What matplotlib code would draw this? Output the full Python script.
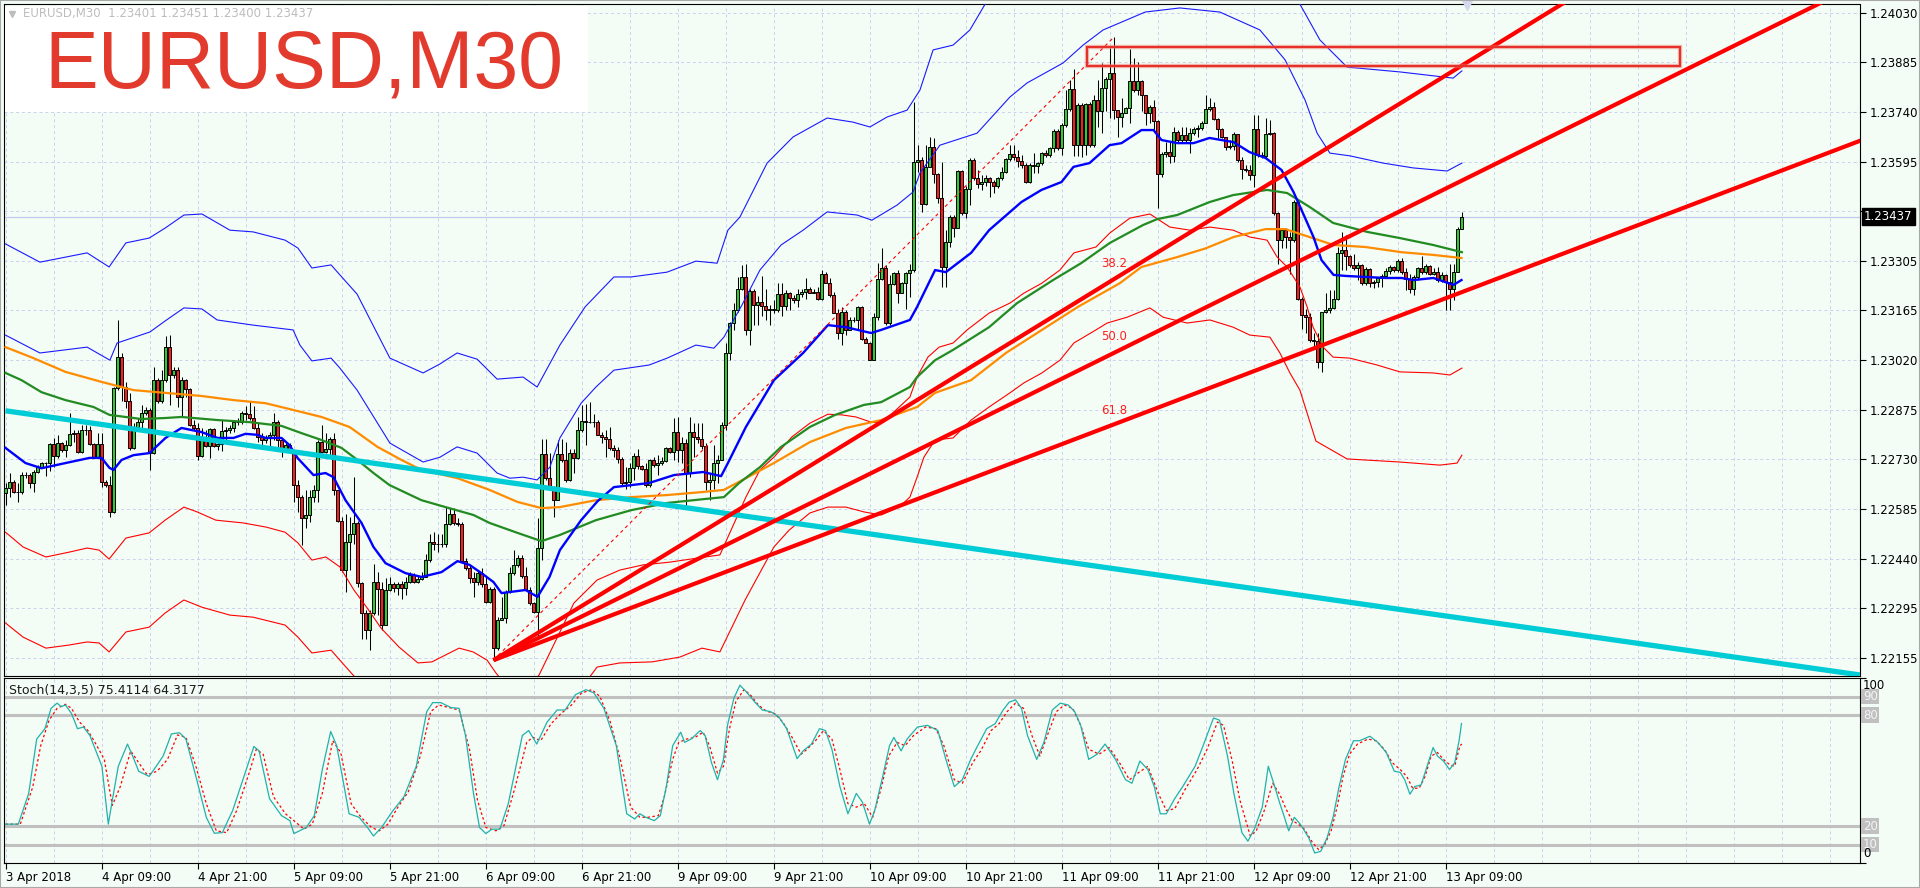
"""
EURUSD M30 chart in MetaTrader style: candles, moving averages, bands,
trend lines and a stochastic sub-window.
"""

import numpy as np
import matplotlib.pyplot as plt
from matplotlib.patches import Rectangle


# ---------------------------------------------------------------- data
symbol_title = 'EURUSD,M30'
header_text = 'EURUSD,M30  1.23401 1.23451 1.23400 1.23437'
stoch_header = 'Stoch(14,3,5) 75.4114 64.3177'

time_labels = ['3 Apr 2018', '4 Apr 09:00', '4 Apr 21:00', '5 Apr 09:00',
               '5 Apr 21:00', '6 Apr 09:00', '6 Apr 21:00', '9 Apr 09:00',
               '9 Apr 21:00', '10 Apr 09:00', '10 Apr 21:00', '11 Apr 09:00',
               '11 Apr 21:00', '12 Apr 09:00', '12 Apr 21:00', '13 Apr 09:00']
bars_per_label = 24

# the 5th label sits under the bid price box, so it is left blank
price_labels = ['1.24030', '1.23885', '1.23740', '1.23595', '',
                '1.23305', '1.23165', '1.23020', '1.22875', '1.22730',
                '1.22585', '1.22440', '1.22295', '1.22155']

# candles (one per 30 min bar); open = previous close
first_open = 1.22633
closes = [
    1.22648, 1.22667, 1.22638, 1.22638, 1.22686, 1.22686, 1.22662, 1.22696, 1.22709, 1.22720,
    1.22722, 1.22776, 1.22742, 1.22780, 1.22759, 1.22774, 1.22805, 1.22808, 1.22754, 1.22817,
    1.22817, 1.22777, 1.22740, 1.22776, 1.22667, 1.22657, 1.22580, 1.22938, 1.23028, 1.22943,
    1.22900, 1.22764, 1.22825, 1.22841, 1.22866, 1.22875, 1.22749, 1.22963, 1.22900, 1.22963,
    1.23058, 1.22977, 1.22992, 1.22914, 1.22963, 1.22935, 1.22832, 1.22822, 1.22742, 1.22796,
    1.22771, 1.22819, 1.22771, 1.22777, 1.22814, 1.22817, 1.22822, 1.22841, 1.22839, 1.22866,
    1.22864, 1.22851, 1.22822, 1.22796, 1.22788, 1.22793, 1.22803, 1.22839, 1.22788, 1.22761,
    1.22774, 1.22759, 1.22657, 1.22623, 1.22560, 1.22570, 1.22621, 1.22644, 1.22783, 1.22754,
    1.22763, 1.22792, 1.22642, 1.22553, 1.22410, 1.22492, 1.22514, 1.22547, 1.22373, 1.22286,
    1.22235, 1.22284, 1.22376, 1.22354, 1.22250, 1.22352, 1.22368, 1.22359, 1.22369, 1.22359,
    1.22376, 1.22395, 1.22376, 1.22384, 1.22390, 1.22439, 1.22492, 1.22485, 1.22487, 1.22485,
    1.22545, 1.22572, 1.22547, 1.22545, 1.22437, 1.22415, 1.22387, 1.22376, 1.22402, 1.22369,
    1.22316, 1.22355, 1.22182, 1.22264, 1.22272, 1.22345, 1.22400, 1.22424, 1.22444, 1.22392,
    1.22352, 1.22313, 1.22289, 1.22473, 1.22746, 1.22678, 1.22650, 1.22615, 1.22746, 1.22731,
    1.22671, 1.22749, 1.22737, 1.22817, 1.22843, 1.22841, 1.22841, 1.22839, 1.22802, 1.22797,
    1.22792, 1.22766, 1.22758, 1.22734, 1.22662, 1.22666, 1.22707, 1.22741, 1.22712, 1.22705,
    1.22657, 1.22729, 1.22715, 1.22720, 1.22727, 1.22766, 1.22754, 1.22810, 1.22758, 1.22778,
    1.22691, 1.22812, 1.22797, 1.22792, 1.22770, 1.22666, 1.22673, 1.22722, 1.22731, 1.22833,
    1.23041, 1.23127, 1.23167, 1.23227, 1.23262, 1.23107, 1.23221, 1.23180, 1.23190, 1.23177,
    1.23165, 1.23170, 1.23165, 1.23212, 1.23177, 1.23216, 1.23202, 1.23196, 1.23212, 1.23219,
    1.23226, 1.23216, 1.23219, 1.23199, 1.23270, 1.23245, 1.23209, 1.23158, 1.23098, 1.23161,
    1.23109, 1.23136, 1.23138, 1.23175, 1.23083, 1.23070, 1.23022, 1.23146, 1.23255, 1.23289,
    1.23127, 1.23241, 1.23274, 1.23216, 1.23245, 1.23274, 1.23282, 1.23597, 1.23602, 1.23474,
    1.23583, 1.23639, 1.23561, 1.23491, 1.23292, 1.23365, 1.23437, 1.23403, 1.23570, 1.23447,
    1.23517, 1.23602, 1.23549, 1.23532, 1.23539, 1.23549, 1.23539, 1.23525, 1.23549, 1.23568,
    1.23604, 1.23620, 1.23612, 1.23600, 1.23588, 1.23539, 1.23588, 1.23585, 1.23592, 1.23621,
    1.23617, 1.23636, 1.23687, 1.23636, 1.23704, 1.23749, 1.23808, 1.23646, 1.23762, 1.23646,
    1.23765, 1.23646, 1.23777, 1.23743, 1.23810, 1.23837, 1.23854, 1.23747, 1.23726, 1.23740,
    1.23752, 1.23833, 1.23806, 1.23833, 1.23791, 1.23740, 1.23755, 1.23714, 1.23561, 1.23620,
    1.23626, 1.23614, 1.23684, 1.23660, 1.23675, 1.23660, 1.23680, 1.23691, 1.23694, 1.23709,
    1.23749, 1.23755, 1.23720, 1.23691, 1.23669, 1.23640, 1.23642, 1.23679, 1.23602, 1.23577,
    1.23573, 1.23558, 1.23691, 1.23616, 1.23613, 1.23679, 1.23681, 1.23447, 1.23369, 1.23398,
    1.23377, 1.23369, 1.23480, 1.23199, 1.23151, 1.23146, 1.23078, 1.23076, 1.23015, 1.23161,
    1.23166, 1.23173, 1.23197, 1.23332, 1.23340, 1.23323, 1.23296, 1.23287, 1.23296, 1.23243,
    1.23284, 1.23243, 1.23246, 1.23258, 1.23264, 1.23280, 1.23290, 1.23282, 1.23309, 1.23277,
    1.23255, 1.23226, 1.23261, 1.23287, 1.23277, 1.23293, 1.23272, 1.23277, 1.23253, 1.23267,
    1.23248, 1.23226, 1.23277, 1.23401, 1.23437]
highs = [
    1.22662, 1.22691, 1.22672, 1.22662, 1.22696, 1.22696, 1.22691, 1.22701, 1.22716, 1.22725,
    1.22725, 1.22778, 1.22793, 1.22803, 1.22783, 1.22788, 1.22866, 1.22817, 1.22817, 1.22832,
    1.22832, 1.22829, 1.22778, 1.22808, 1.22808, 1.22672, 1.22682, 1.22943, 1.23137, 1.23040,
    1.22958, 1.22924, 1.22837, 1.22851, 1.22890, 1.22883, 1.22880, 1.23001, 1.22967, 1.22992,
    1.23089, 1.23093, 1.23001, 1.23001, 1.22972, 1.22965, 1.22938, 1.22846, 1.22837, 1.22822,
    1.22817, 1.22822, 1.22822, 1.22793, 1.22846, 1.22827, 1.22832, 1.22846, 1.22851, 1.22871,
    1.22887, 1.22900, 1.22887, 1.22837, 1.22808, 1.22803, 1.22812, 1.22866, 1.22846, 1.22788,
    1.22778, 1.22778, 1.22749, 1.22672, 1.22628, 1.22642, 1.22642, 1.22657, 1.22788, 1.22831,
    1.22807, 1.22797, 1.22807, 1.22642, 1.22565, 1.22574, 1.22565, 1.22681, 1.22553, 1.22376,
    1.22293, 1.22293, 1.22429, 1.22405, 1.22376, 1.22386, 1.22390, 1.22376, 1.22376, 1.22379,
    1.22390, 1.22405, 1.22400, 1.22395, 1.22405, 1.22458, 1.22516, 1.22521, 1.22516, 1.22516,
    1.22594, 1.22589, 1.22589, 1.22560, 1.22550, 1.22444, 1.22424, 1.22405, 1.22410, 1.22415,
    1.22390, 1.22361, 1.22361, 1.22274, 1.22332, 1.22352, 1.22419, 1.22468, 1.22453, 1.22453,
    1.22419, 1.22361, 1.22318, 1.22560, 1.22792, 1.22792, 1.22749, 1.22654, 1.22788, 1.22792,
    1.22783, 1.22763, 1.22763, 1.22855, 1.22889, 1.22894, 1.22899, 1.22865, 1.22846, 1.22812,
    1.22817, 1.22826, 1.22773, 1.22768, 1.22739, 1.22710, 1.22720, 1.22749, 1.22763, 1.22715,
    1.22720, 1.22734, 1.22739, 1.22744, 1.22739, 1.22768, 1.22768, 1.22851, 1.22855, 1.22797,
    1.22792, 1.22855, 1.22836, 1.22836, 1.22836, 1.22778, 1.22691, 1.22773, 1.22744, 1.22841,
    1.23069, 1.23132, 1.23185, 1.23262, 1.23296, 1.23301, 1.23226, 1.23228, 1.23206, 1.23264,
    1.23228, 1.23180, 1.23195, 1.23245, 1.23245, 1.23224, 1.23219, 1.23209, 1.23228, 1.23228,
    1.23258, 1.23233, 1.23228, 1.23233, 1.23282, 1.23277, 1.23258, 1.23219, 1.23170, 1.23175,
    1.23165, 1.23146, 1.23146, 1.23177, 1.23177, 1.23088, 1.23073, 1.23156, 1.23303, 1.23345,
    1.23296, 1.23267, 1.23277, 1.23282, 1.23248, 1.23277, 1.23301, 1.23771, 1.23645, 1.23612,
    1.23646, 1.23670, 1.23665, 1.23563, 1.23597, 1.23399, 1.23442, 1.23442, 1.23573, 1.23573,
    1.23525, 1.23607, 1.23607, 1.23573, 1.23558, 1.23558, 1.23554, 1.23544, 1.23554, 1.23583,
    1.23607, 1.23646, 1.23646, 1.23631, 1.23617, 1.23592, 1.23592, 1.23621, 1.23597, 1.23626,
    1.23631, 1.23641, 1.23691, 1.23691, 1.23709, 1.23806, 1.23835, 1.23866, 1.23767, 1.23767,
    1.23769, 1.23772, 1.23791, 1.23835, 1.23883, 1.23844, 1.23927, 1.23959, 1.23747, 1.23781,
    1.23757, 1.23925, 1.23898, 1.23888, 1.23835, 1.23791, 1.23762, 1.23777, 1.23718, 1.23626,
    1.23655, 1.23655, 1.23699, 1.23689, 1.23699, 1.23699, 1.23694, 1.23699, 1.23704, 1.23714,
    1.23791, 1.23781, 1.23771, 1.23723, 1.23694, 1.23669, 1.23660, 1.23684, 1.23679, 1.23611,
    1.23587, 1.23587, 1.23732, 1.23732, 1.23626, 1.23723, 1.23718, 1.23684, 1.23451, 1.23403,
    1.23403, 1.23393, 1.23485, 1.23485, 1.23204, 1.23170, 1.23156, 1.23098, 1.23098, 1.23161,
    1.23214, 1.23224, 1.23224, 1.23350, 1.23393, 1.23384, 1.23325, 1.23330, 1.23306, 1.23301,
    1.23291, 1.23287, 1.23253, 1.23262, 1.23272, 1.23287, 1.23296, 1.23293, 1.23313, 1.23316,
    1.23287, 1.23272, 1.23267, 1.23291, 1.23323, 1.23301, 1.23296, 1.23287, 1.23291, 1.23277,
    1.23272, 1.23301, 1.23301, 1.23408, 1.23451]
lows = [
    1.22599, 1.22623, 1.22633, 1.22609, 1.22631, 1.22677, 1.22648, 1.22638, 1.22693, 1.22706,
    1.22682, 1.22699, 1.22711, 1.22735, 1.22754, 1.22740, 1.22771, 1.22783, 1.22749, 1.22751,
    1.22803, 1.22774, 1.22735, 1.22738, 1.22652, 1.22652, 1.22565, 1.22575, 1.22934, 1.22900,
    1.22880, 1.22759, 1.22761, 1.22817, 1.22817, 1.22861, 1.22701, 1.22747, 1.22895, 1.22895,
    1.22958, 1.22890, 1.22967, 1.22883, 1.22856, 1.22912, 1.22829, 1.22817, 1.22730, 1.22740,
    1.22767, 1.22735, 1.22767, 1.22759, 1.22757, 1.22788, 1.22808, 1.22812, 1.22832, 1.22835,
    1.22846, 1.22846, 1.22819, 1.22783, 1.22774, 1.22778, 1.22764, 1.22788, 1.22759, 1.22740,
    1.22754, 1.22749, 1.22609, 1.22580, 1.22482, 1.22531, 1.22550, 1.22608, 1.22608, 1.22749,
    1.22749, 1.22744, 1.22628, 1.22550, 1.22405, 1.22347, 1.22410, 1.22487, 1.22361, 1.22211,
    1.22211, 1.22177, 1.22279, 1.22279, 1.22235, 1.22250, 1.22350, 1.22347, 1.22337, 1.22327,
    1.22337, 1.22371, 1.22371, 1.22371, 1.22381, 1.22390, 1.22434, 1.22468, 1.22463, 1.22478,
    1.22478, 1.22541, 1.22541, 1.22538, 1.22434, 1.22410, 1.22371, 1.22332, 1.22366, 1.22361,
    1.22313, 1.22313, 1.22148, 1.22177, 1.22264, 1.22255, 1.22342, 1.22395, 1.22419, 1.22388,
    1.22352, 1.22308, 1.22284, 1.22211, 1.22439, 1.22671, 1.22642, 1.22565, 1.22613, 1.22725,
    1.22667, 1.22669, 1.22691, 1.22734, 1.22812, 1.22773, 1.22836, 1.22826, 1.22802, 1.22778,
    1.22739, 1.22758, 1.22739, 1.22722, 1.22657, 1.22647, 1.22652, 1.22671, 1.22705, 1.22700,
    1.22652, 1.22652, 1.22710, 1.22686, 1.22715, 1.22725, 1.22749, 1.22729, 1.22725, 1.22720,
    1.22594, 1.22681, 1.22739, 1.22778, 1.22763, 1.22642, 1.22613, 1.22647, 1.22662, 1.22729,
    1.22817, 1.23020, 1.23107, 1.23161, 1.23224, 1.23093, 1.23064, 1.23122, 1.23122, 1.23148,
    1.23136, 1.23122, 1.23156, 1.23161, 1.23148, 1.23165, 1.23165, 1.23185, 1.23175, 1.23204,
    1.23199, 1.23214, 1.23214, 1.23195, 1.23195, 1.23243, 1.23204, 1.23156, 1.23083, 1.23064,
    1.23093, 1.23107, 1.23132, 1.23107, 1.23078, 1.23069, 1.23020, 1.23020, 1.23136, 1.23253,
    1.23122, 1.23122, 1.23238, 1.23185, 1.23214, 1.23170, 1.23204, 1.23277, 1.23568, 1.23452,
    1.23471, 1.23583, 1.23534, 1.23476, 1.23234, 1.23234, 1.23350, 1.23379, 1.23403, 1.23442,
    1.23433, 1.23471, 1.23544, 1.23520, 1.23515, 1.23525, 1.23495, 1.23505, 1.23520, 1.23544,
    1.23563, 1.23600, 1.23602, 1.23581, 1.23578, 1.23534, 1.23534, 1.23563, 1.23563, 1.23588,
    1.23612, 1.23612, 1.23626, 1.23631, 1.23617, 1.23699, 1.23743, 1.23614, 1.23614, 1.23612,
    1.23617, 1.23641, 1.23641, 1.23699, 1.23680, 1.23743, 1.23723, 1.23720, 1.23670, 1.23699,
    1.23738, 1.23709, 1.23801, 1.23791, 1.23743, 1.23704, 1.23709, 1.23689, 1.23462, 1.23554,
    1.23612, 1.23592, 1.23597, 1.23655, 1.23655, 1.23655, 1.23621, 1.23675, 1.23670, 1.23689,
    1.23709, 1.23743, 1.23718, 1.23665, 1.23665, 1.23631, 1.23635, 1.23631, 1.23597, 1.23548,
    1.23568, 1.23543, 1.23524, 1.23611, 1.23609, 1.23606, 1.23674, 1.23442, 1.23301, 1.23345,
    1.23345, 1.23272, 1.23364, 1.23195, 1.23112, 1.23098, 1.23073, 1.23059, 1.22996, 1.22986,
    1.23156, 1.23156, 1.23170, 1.23195, 1.23282, 1.23282, 1.23291, 1.23282, 1.23253, 1.23238,
    1.23238, 1.23233, 1.23229, 1.23233, 1.23233, 1.23261, 1.23272, 1.23277, 1.23277, 1.23272,
    1.23224, 1.23214, 1.23209, 1.23253, 1.23272, 1.23270, 1.23267, 1.23267, 1.23248, 1.23248,
    1.23166, 1.23166, 1.23195, 1.23277, 1.23400]

# indicator lines: (bar index, price)
ma_fast = [
    (0, 1.22765), (5, 1.22721), (9, 1.22706), (15, 1.22721), (21, 1.22736), (24, 1.22736),
    (26, 1.22707), (27, 1.22701), (29, 1.22730), (32, 1.22744), (36, 1.22750), (40, 1.22794),
    (44, 1.22823), (49, 1.22811), (53, 1.22794), (57, 1.22794), (60, 1.22806), (63, 1.22803),
    (65, 1.22794), (69, 1.22794), (71, 1.22773), (73, 1.22736), (77, 1.22686), (80, 1.22692),
    (82, 1.22680), (85, 1.22613), (89, 1.22547), (92, 1.22477), (95, 1.22430), (100, 1.22401),
    (104, 1.22390), (109, 1.22404), (113, 1.22436), (116, 1.22425), (119, 1.22401), (122, 1.22375),
    (124, 1.22343), (128, 1.22349), (130, 1.22352), (133, 1.22332), (136, 1.22390), (138.6, 1.22468),
    (143.9, 1.22555), (148, 1.22610), (152.1, 1.22651), (160.9, 1.22663), (167.1, 1.22686),
    (174.4, 1.22695), (178.9, 1.22683), (180.6, 1.22721), (185.1, 1.22826), (192.1, 1.22962),
    (199.4, 1.23041), (205.6, 1.23122), (210.1, 1.23116), (216.4, 1.23099), (218.9, 1.23108),
    (226.1, 1.23137), (227.9, 1.23175), (232.4, 1.23282), (235.1, 1.23276), (241.4, 1.23332),
    (245.9, 1.23398), (254, 1.23480), (259, 1.23515), (264, 1.23538), (267, 1.23582), (271, 1.23593),
    (276, 1.23645), (279, 1.23651), (284, 1.23689), (287, 1.23689), (289, 1.23660), (293, 1.23651),
    (297, 1.23651), (301, 1.23666), (307, 1.23654), (311, 1.23625), (315, 1.23608), (319, 1.23573),
    (322, 1.23509), (324, 1.23457), (327, 1.23378), (329, 1.23311), (332, 1.23268), (335, 1.23265),
    (340, 1.23262), (345, 1.23259), (349, 1.23259), (352, 1.23253), (357, 1.23259), (360, 1.23247),
    (362, 1.23239), (364, 1.23253)]
ma_mid = [
    (0, 1.22983), (4, 1.22962), (9, 1.22927), (15, 1.22904), (22, 1.22884), (26, 1.22861),
    (28, 1.22858), (34, 1.22849), (40, 1.22852), (44, 1.22855), (53, 1.22846), (61, 1.22840),
    (69, 1.22829), (74, 1.22808), (79, 1.22788), (84, 1.22765), (88, 1.22730), (92, 1.22692),
    (96, 1.22657), (104, 1.22613), (110, 1.22593), (117, 1.22570), (121, 1.22547), (128, 1.22518),
    (134, 1.22494), (138.6, 1.22512), (147.6, 1.22555), (156.4, 1.22584), (165.4, 1.22605),
    (174.4, 1.22616), (179.6, 1.22622), (183.4, 1.22663), (188.6, 1.22709), (193.9, 1.22768),
    (201.1, 1.22826), (207.4, 1.22861), (214.6, 1.22890), (218.9, 1.22898), (226.1, 1.22942),
    (227.9, 1.22971), (232.4, 1.23020), (236.9, 1.23050), (245.9, 1.23116), (252.9, 1.23186),
    (261.9, 1.23253), (268.9, 1.23302), (276.1, 1.23361), (284.4, 1.23413), (287.9, 1.23430),
    (292.9, 1.23442), (301.1, 1.23480), (306.9, 1.23500), (315.4, 1.23515), (320.4, 1.23506),
    (326.1, 1.23465), (331.9, 1.23419), (340.4, 1.23393), (348.6, 1.23375), (356.9, 1.23355),
    (364.1, 1.23334)]
ma_slow = [
    (0, 1.23058), (7, 1.23026), (15, 1.22986), (24, 1.22957), (32, 1.22933), (40, 1.22925),
    (49, 1.22916), (57, 1.22904), (65, 1.22895), (71, 1.22878), (79, 1.22855), (86, 1.22826),
    (93, 1.22768), (99, 1.22730), (104, 1.22701), (113, 1.22677), (121, 1.22643), (128, 1.22608),
    (134, 1.22590), (138.6, 1.22593), (147.6, 1.22613), (156.4, 1.22622), (165.4, 1.22628),
    (174.4, 1.22637), (179.6, 1.22643), (185.1, 1.22677), (192.1, 1.22721), (201.1, 1.22782),
    (210.1, 1.22823), (218.9, 1.22846), (227.9, 1.22884), (232.4, 1.22925), (241.4, 1.22962),
    (250.1, 1.23041), (259.1, 1.23108), (268.1, 1.23175), (278.6, 1.23244), (284, 1.23291),
    (293, 1.23320), (300, 1.23345), (307, 1.23378), (315, 1.23401), (320, 1.23401), (326, 1.23378),
    (332, 1.23355), (340, 1.23349), (349, 1.23334), (357, 1.23326), (364, 1.23317)]
band_up_outer = [
    (0, 1.23358), (8.6, 1.23305), (20.4, 1.23332), (25.9, 1.23291), (30.1, 1.23361),
    (35.9, 1.23375), (39.9, 1.23404), (44.6, 1.23442), (49.1, 1.23445), (56.1, 1.23398),
    (61.9, 1.23393), (69.9, 1.23369), (73.1, 1.23346), (76.6, 1.23288), (81.4, 1.23297),
    (83.6, 1.23268), (87.9, 1.23212), (96.1, 1.23026), (104.4, 1.22983), (108.6, 1.23009),
    (112.9, 1.23041), (117.9, 1.23023), (122.9, 1.22965), (129.4, 1.22971), (132.9, 1.22942),
    (138.6, 1.23064), (144.9, 1.23175), (152.1, 1.23262), (156.4, 1.23262), (165.4, 1.23276),
    (172.6, 1.23308), (177.9, 1.23302), (180.6, 1.23398), (183.6, 1.23436), (190.4, 1.23593),
    (196.9, 1.23669), (205.4, 1.23724), (211.9, 1.23712), (216.1, 1.23698), (220.4, 1.23727),
    (225.4, 1.23747), (228.6, 1.23805), (231.9, 1.23922), (236.9, 1.23936), (241.1, 1.23980),
    (244.9, 1.24055), (261, 1.24180), (290, 1.24240), (310, 1.24180), (323.6, 1.24055),
    (328.6, 1.23951), (335.4, 1.23872), (348.6, 1.23858), (361.9, 1.23840), (364.1, 1.23861)]
band_up_inner = [
    (0, 1.23093), (8.6, 1.23041), (20.4, 1.23058), (26.1, 1.23020), (27.9, 1.23070),
    (36.1, 1.23102), (39.9, 1.23134), (44.6, 1.23172), (49.1, 1.23169), (52.9, 1.23137),
    (61.9, 1.23122), (71.9, 1.23108), (73.6, 1.23064), (76.6, 1.23018), (81.4, 1.23026),
    (83.6, 1.22997), (87.9, 1.22933), (96.1, 1.22779), (104.4, 1.22724), (108.6, 1.22738),
    (112.9, 1.22768), (117.9, 1.22750), (122.9, 1.22692), (126.1, 1.22677), (129.4, 1.22680),
    (132.9, 1.22672), (136.1, 1.22709), (138.6, 1.22794), (143.9, 1.22895), (147.6, 1.22942),
    (152.1, 1.22991), (160.9, 1.23006), (165.4, 1.23026), (172.6, 1.23064), (177.1, 1.23055),
    (179.6, 1.23087), (184.1, 1.23180), (188.6, 1.23282), (193.9, 1.23355), (199.4, 1.23398),
    (205.4, 1.23451), (212.9, 1.23442), (216.6, 1.23427), (222.9, 1.23471), (226.9, 1.23509),
    (228.6, 1.23564), (233.6, 1.23645), (242.9, 1.23680), (251.1, 1.23785), (255.4, 1.23826),
    (264.4, 1.23884), (269.4, 1.23936), (274.4, 1.23980), (284.9, 1.24032), (293.6, 1.24044),
    (303.6, 1.24032), (313.6, 1.23980), (319.9, 1.23893), (324.9, 1.23776), (327.9, 1.23680),
    (331.1, 1.23622), (336.1, 1.23614), (344.4, 1.23593), (351.9, 1.23579), (360.4, 1.23570),
    (364.1, 1.23593)]
band_lo_inner = [
    (0, 1.22520), (4.4, 1.22477), (10.1, 1.22448), (15.9, 1.22462), (20.4, 1.22474),
    (23.4, 1.22468), (25.9, 1.22442), (30.1, 1.22503), (35.9, 1.22518), (39.9, 1.22555),
    (44.6, 1.22593), (47.9, 1.22579), (52.6, 1.22555), (59.4, 1.22547), (65.1, 1.22535),
    (69.9, 1.22520), (73.1, 1.22489), (76.6, 1.22439), (80.1, 1.22448), (83.6, 1.22419),
    (87.1, 1.22352), (90.4, 1.22300), (93.9, 1.22241), (98.4, 1.22186), (103.1, 1.22140),
    (106.6, 1.22143), (113.4, 1.22183), (116.9, 1.22172), (120.4, 1.22148), (122.6, 1.22111),
    (126.1, 1.22061), (129.9, 1.22055), (133.4, 1.22105), (136.4, 1.22177), (142.1, 1.22314),
    (147.9, 1.22381), (153.6, 1.22410), (159.4, 1.22425), (166.1, 1.22433), (173.1, 1.22445),
    (178.6, 1.22454), (185.1, 1.22622), (188.6, 1.22701), (192.1, 1.22738), (196.6, 1.22797),
    (201.1, 1.22837), (205.6, 1.22863), (209.1, 1.22861), (212.6, 1.22855), (216.4, 1.22840),
    (218.9, 1.22837), (222.6, 1.22875), (226.1, 1.22913), (227.9, 1.22971), (230.6, 1.23029),
    (233.4, 1.23058), (236.9, 1.23070), (240.4, 1.23108), (245.9, 1.23157), (251.1, 1.23186),
    (254.6, 1.23215), (259.1, 1.23244), (263.6, 1.23282), (267.1, 1.23332), (272.6, 1.23349),
    (276.1, 1.23390), (281.1, 1.23433), (286.1, 1.23445), (291.1, 1.23407), (296.1, 1.23398),
    (301.1, 1.23407), (306.9, 1.23398), (311.1, 1.23378), (315.4, 1.23369), (317.9, 1.23320),
    (320.4, 1.23291), (323.6, 1.23233), (325.4, 1.23175), (326.9, 1.23116), (329.4, 1.23058),
    (331.9, 1.23029), (336.1, 1.23026), (342.9, 1.23006), (348.6, 1.22986), (356.9, 1.22983),
    (361.1, 1.22977), (364.1, 1.22997)]
band_lo_outer = [
    (0, 1.22256), (4.4, 1.22215), (10.1, 1.22183), (15.9, 1.22192), (20.4, 1.22201),
    (23.4, 1.22198), (25.9, 1.22172), (30.1, 1.22230), (35.9, 1.22244), (39.9, 1.22285),
    (44.6, 1.22323), (49.1, 1.22302), (56.1, 1.22279), (61.9, 1.22273), (69.9, 1.22250),
    (73.1, 1.22215), (76.6, 1.22169), (81.4, 1.22177), (83.6, 1.22148), (87.1, 1.22102),
    (96.1, 1.22003), (104.4, 1.21913), (112.9, 1.21910), (122.9, 1.21832), (132.9, 1.21858),
    (143.6, 1.22061), (147.9, 1.22128), (153.6, 1.22140), (161.6, 1.22143), (168.6, 1.22157),
    (174.1, 1.22183), (178.6, 1.22172), (184.9, 1.22323), (192.1, 1.22477), (195.9, 1.22526),
    (201.1, 1.22576), (205.6, 1.22593), (210.1, 1.22593), (214.6, 1.22579), (218.9, 1.22570),
    (223.4, 1.22593), (226.1, 1.22622), (227.9, 1.22680), (229.6, 1.22738), (232.4, 1.22788),
    (236.9, 1.22794), (241.4, 1.22846), (245.9, 1.22884), (251.1, 1.22925), (254.6, 1.22954),
    (259.1, 1.22983), (263.6, 1.23020), (267.1, 1.23070), (272.6, 1.23108), (275.4, 1.23128),
    (280.4, 1.23145), (286.1, 1.23172), (289.4, 1.23145), (295.4, 1.23128), (301.1, 1.23137),
    (306.9, 1.23116), (311.1, 1.23093), (316.1, 1.23087), (318.6, 1.23041), (321.1, 1.22983),
    (323.6, 1.22933), (327.6, 1.22785), (335.4, 1.22733), (348.6, 1.22724), (358.6, 1.22715),
    (362.9, 1.22721), (364.1, 1.22744)]

# stochastic %K (main) and %D (signal): (bar index, value)
stoch_main = [
    (0, 21.0), (3.2, 21.0), (5.8, 37.6), (7.8, 67.0), (9.85, 72.6), (11.4, 83.6), (12.9, 86.4),
    (13.9, 84.5), (15.0, 85.4), (16.5, 80.8), (18.0, 72.6), (19.5, 73.5), (21.1, 68.9), (22.6, 60.6),
    (24.1, 52.3), (25.7, 21.0), (26.7, 33.9), (28.2, 52.3), (30.5, 64.3), (31.8, 57.8), (33.3, 49.6),
    (35.9, 46.8), (37.4, 51.4), (39.4, 57.8), (41.5, 69.8), (43.5, 70.4), (45.1, 67.0), (47.6, 46.8),
    (50.2, 24.7), (52.2, 16.1), (54.2, 16.4), (56.8, 28.4), (59.9, 48.6), (62.1, 63.0), (63.4, 60.6),
    (66.0, 34.8), (69.0, 25.6), (71.1, 22.9), (72.1, 15.9), (75.2, 19.2), (77.2, 25.6), (79.2, 50.5),
    (81.3, 71.1), (82.8, 63.4), (85.9, 26.6), (88.4, 24.7), (90.5, 19.2), (92.0, 14.6), (94.0, 19.2),
    (96.6, 27.5), (99.6, 35.8), (102.7, 52.3), (105.3, 81.8), (106.8, 86.7), (108.8, 86.7),
    (111.4, 84.0), (113.4, 83.6), (115.0, 68.9), (117.0, 37.6), (118.5, 19.2), (120.1, 15.9),
    (121.6, 18.3), (123.6, 18.3), (125.7, 32.1), (129.2, 68.9), (130.8, 71.6), (132.8, 64.3),
    (135.4, 76.2), (137.9, 82.7), (139.9, 82.7), (142.5, 91.0), (145.1, 93.7), (147.1, 91.9),
    (149.6, 83.6), (152.7, 63.4), (155.3, 26.6), (157.3, 23.8), (158.6, 26.6), (160.1, 24.7),
    (162.2, 22.9), (163.7, 25.6), (165.2, 41.3), (166.8, 63.4), (168.8, 70.7), (169.8, 65.2),
    (171.4, 67.0), (173.7, 71.6), (174.9, 68.9), (176.5, 54.2), (178.0, 45.0), (179.5, 56.0),
    (180.5, 74.4), (182.1, 89.1), (183.6, 96.1), (185.1, 92.8), (187.2, 87.3), (189.2, 82.7),
    (191.3, 81.8), (193.3, 79.0), (195.3, 72.6), (197.9, 56.4), (199.4, 60.6), (201.5, 64.3),
    (203.5, 72.6), (205.0, 71.6), (206.6, 61.5), (208.6, 41.3), (210.6, 26.6), (212.7, 37.6),
    (214.2, 33.0), (216.0, 21.0), (217.3, 28.4), (219.3, 46.8), (221.0, 63.4), (222.1, 67.9),
    (223.9, 60.6), (225.4, 67.0), (228.0, 73.5), (230.5, 74.4), (233.1, 71.6), (235.1, 56.0),
    (237.2, 41.3), (239.2, 45.0), (241.3, 56.0), (242.8, 62.4), (245.3, 72.6), (247.4, 75.3),
    (249.4, 82.7), (250.9, 86.9), (252.5, 88.2), (254.0, 83.6), (255.5, 68.9), (257.8, 56.0),
    (259.6, 65.2), (261.7, 82.7), (263.7, 86.4), (265.7, 85.4), (267.3, 81.8), (268.8, 74.4),
    (270.8, 56.0), (272.9, 58.8), (274.9, 64.3), (277.5, 56.0), (280.0, 45.0), (281.6, 43.1),
    (283.6, 55.1), (285.6, 50.5), (287.2, 41.3), (288.7, 26.6), (290.2, 26.6), (292.3, 34.8),
    (294.3, 41.3), (297.4, 52.3), (299.4, 63.4), (302.0, 78.4), (303.5, 77.2), (305.5, 57.8),
    (307.1, 37.6), (309.1, 16.4), (310.6, 11.8), (312.2, 18.3), (314.2, 30.2), (315.7, 52.3),
    (317.3, 41.3), (318.6, 32.1), (319.6, 25.6), (320.8, 17.4), (322.2, 24.7), (323.7, 21.0),
    (325.8, 13.7), (327.3, 5.4), (328.8, 6.3), (330.4, 13.7), (331.9, 24.7), (333.4, 41.3),
    (335.0, 56.0), (337.0, 66.1), (338.5, 66.1), (341.1, 68.5), (343.1, 65.2), (345.2, 59.7),
    (347.2, 49.6), (348.7, 49.0), (349.8, 45.0), (351.1, 37.2), (352.3, 41.3), (353.9, 42.2),
    (355.4, 52.3), (356.9, 62.4), (358.0, 57.8), (359.5, 55.1), (361.0, 50.5), (362.3, 54.2),
    (363.4, 66.1), (364.0, 75.4)]
stoch_signal = [
    (0, 21.0), (3.7, 21.0), (6.8, 41.0), (8.8, 63.4), (10.9, 77.2), (12.9, 83.6), (15.0, 85.8),
    (16.5, 83.6), (18.5, 76.2), (20.6, 71.6), (22.6, 64.3), (24.7, 56.0), (26.7, 31.2), (28.7, 41.3),
    (31.3, 60.6), (33.3, 54.2), (35.4, 47.7), (37.9, 49.6), (40.5, 56.0), (43.0, 69.2), (45.1, 68.0),
    (47.6, 52.3), (50.2, 32.1), (52.7, 17.4), (55.3, 16.4), (57.8, 28.4), (60.9, 48.6), (62.7, 61.5),
    (64.4, 58.8), (67.0, 35.8), (70.0, 26.6), (72.1, 22.9), (74.6, 18.3), (76.7, 21.0), (79.2, 37.6),
    (81.8, 66.1), (83.8, 59.7), (86.4, 32.1), (88.9, 24.7), (91.5, 19.2), (93.5, 17.4), (95.6, 21.0),
    (98.1, 30.2), (100.7, 38.5), (103.7, 57.8), (106.3, 81.8), (108.3, 85.4), (110.9, 84.0),
    (113.4, 82.7), (116.0, 61.5), (118.0, 33.9), (120.1, 19.2), (122.6, 17.4), (124.6, 20.1),
    (127.2, 39.4), (130.3, 65.2), (131.8, 68.0), (133.8, 66.1), (136.4, 75.3), (138.9, 80.8),
    (141.5, 85.4), (144.0, 91.9), (146.6, 93.7), (148.6, 90.0), (151.2, 76.2), (153.7, 56.0),
    (156.3, 30.2), (158.6, 24.7), (160.6, 24.7), (163.2, 25.6), (164.7, 35.8), (166.8, 56.0),
    (168.3, 65.2), (170.3, 67.0), (172.4, 67.9), (174.4, 70.7), (176.0, 63.4), (178.0, 48.6),
    (179.5, 52.3), (181.0, 72.6), (182.6, 87.3), (184.6, 93.7), (186.2, 91.0), (188.2, 85.4),
    (190.2, 82.1), (192.3, 80.8), (194.3, 76.2), (196.4, 68.9), (198.9, 58.8), (200.4, 61.5),
    (202.5, 66.1), (204.5, 71.6), (206.6, 67.0), (208.6, 50.5), (210.6, 32.1), (212.7, 30.2),
    (214.7, 32.1), (216.8, 24.7), (218.8, 39.4), (220.8, 57.8), (222.9, 65.2), (224.9, 63.4),
    (227.0, 68.9), (230.0, 73.5), (232.6, 72.6), (234.6, 63.4), (237.2, 45.0), (239.2, 43.1),
    (241.8, 54.2), (243.8, 60.6), (246.4, 71.6), (248.4, 75.3), (250.4, 81.8), (252.5, 86.4),
    (254.5, 83.6), (256.6, 68.9), (258.6, 57.8), (260.6, 69.8), (262.7, 81.8), (264.7, 85.4),
    (266.8, 83.6), (268.8, 74.4), (270.8, 61.5), (273.4, 58.8), (275.9, 62.4), (278.5, 54.2),
    (281.0, 45.0), (283.1, 48.6), (285.6, 52.3), (288.2, 37.6), (290.2, 28.4), (292.3, 29.3),
    (294.8, 39.4), (297.9, 50.5), (300.4, 61.5), (303.0, 76.2), (304.5, 74.4), (306.6, 56.0),
    (308.6, 33.9), (311.2, 14.6), (312.7, 17.4), (314.7, 28.4), (316.8, 43.1), (318.6, 37.0),
    (320.1, 29.3), (321.7, 22.9), (323.2, 21.0), (324.7, 18.3), (326.8, 10.9), (328.3, 7.2),
    (329.8, 10.0), (331.4, 17.4), (332.9, 30.2), (334.4, 46.8), (336.0, 58.8), (338.0, 64.3),
    (340.6, 67.0), (342.6, 66.1), (344.7, 61.5), (346.7, 54.2), (348.7, 50.5), (350.3, 46.8),
    (351.8, 40.4), (353.4, 40.4), (354.9, 46.8), (356.4, 57.8), (358.0, 59.7), (359.5, 56.0),
    (361.0, 53.2), (362.3, 52.3), (363.6, 63.4), (364.1, 64.3)]
stoch_levels = [90, 80, 20, 10]

# drawn objects
fan_origin = (122, 1.22148)
fan_targets = [(400, 1.24133), (470, 1.24152), (470, 1.23686)]
cyan_trend = [(0, 1.22873), (463.6, 1.22105)]
fib_high = (277, 1.23958)
fib_ratios = [0.382, 0.5, 0.618]
fib_names = ['38.2', '50.0', '61.8']
fib_label_bar = 273.9
zone_bars = (270.4, 418.6)
zone_prices = (1.23876, 1.23931)
bid_price = 1.23437
shift_bar = 365.4

# ---------------------------------------------------------------- style
W, H, DPI = 1920, 888, 100
BG = '#f3fcf5'
GRID = '#c9d1ef'
FONT = 'DejaVu Sans'
x_range = (-0.375, 463.625)
price_range = (1.22102, 1.24054)

fig = plt.figure(figsize=(W / DPI, H / DPI), dpi=DPI, facecolor=BG)
ax = fig.add_axes([4 / W, 1 - 676 / H, 1856 / W, 671.5 / H], facecolor=BG)
ax2 = fig.add_axes([4 / W, 1 - 863 / H, 1856 / W, 185 / H], facecolor=BG)

for a in (ax, ax2):
    a.set_xlim(*x_range)
    for s in a.spines.values():
        s.set_color('black')
        s.set_linewidth(0.8)
    # vertical dashed grid every 12 bars
    for gx in range(0, 464, 12):
        a.axvline(gx, color=GRID, lw=0.7, ls=(0, (3, 3)), zorder=0)

ax.set_ylim(*price_range)
ax2.set_ylim(0, 100)

# right price scale
tick_prices = np.linspace(1.24030, 1.22155, len(price_labels))
ax.set_yticks(tick_prices)
ax.set_yticklabels(price_labels, fontfamily=FONT)
ax.yaxis.tick_right()
ax.tick_params(axis='y', length=4, width=0.8, pad=3, labelsize=8.5)
ax.set_xticks([])
for tp in tick_prices:
    ax.axhline(tp, color=GRID, lw=0.7, ls=(0, (3, 3)), zorder=0)

# bid line and label
ax.axhline(bid_price, color='#c3caef', lw=0.9, zorder=1)
ax.annotate(f'{bid_price:.5f}', xy=(1, bid_price), xycoords=('axes fraction', 'data'),
            xytext=(3, 0), textcoords='offset points', ha='left', va='center',
            fontsize=8.5, color='white', fontfamily=FONT, annotation_clip=False,
            bbox=dict(boxstyle='square,pad=0.18', fc='black', ec='black'), zorder=30)

# ---------------------------------------------------------------- candles
closes_a = np.array(closes)
n = len(closes_a)
opens_a = np.r_[first_open, closes_a[:-1]]
highs_a = np.maximum(np.array(highs[:n]), np.maximum(opens_a, closes_a))
lows_a = np.minimum(np.array(lows[:n]), np.minimum(opens_a, closes_a))
idx = np.arange(n)
up = closes_a >= opens_a
body_lo = np.minimum(opens_a, closes_a)
body_h = np.abs(closes_a - opens_a)

ax.vlines(idx, lows_a, highs_a, color='black', lw=0.75, zorder=3)
ax.bar(idx[up], body_h[up], bottom=body_lo[up], width=0.55, color='#2ecc2e',
       edgecolor='black', linewidth=0.7, zorder=4)
ax.bar(idx[~up], body_h[~up], bottom=body_lo[~up], width=0.55, color='#ff1a1a',
       edgecolor='black', linewidth=0.7, zorder=4)

# ---------------------------------------------------------------- indicators
def draw_line(axis, pts, **kw):
    xs, ys = zip(*pts)
    axis.plot(xs, ys, **kw)

draw_line(ax, band_up_outer, color='#1a1aff', lw=0.8, zorder=5)
draw_line(ax, band_up_inner, color='#1a1aff', lw=0.8, zorder=5)
draw_line(ax, band_lo_inner, color='#ff0000', lw=0.8, zorder=5)
draw_line(ax, band_lo_outer, color='#ff0000', lw=0.8, zorder=5)
draw_line(ax, ma_slow, color='#ff8c00', lw=1.6, zorder=6)
draw_line(ax, ma_mid, color='#228b22', lw=1.6, zorder=6)
draw_line(ax, ma_fast, color='#0000ff', lw=1.7, zorder=6)

# ---------------------------------------------------------------- objects
draw_line(ax, cyan_trend, color='#00ccd6', lw=3.8, solid_capstyle='butt', zorder=7)
for tx, ty in fan_targets:
    ax.plot([fan_origin[0], tx], [fan_origin[1], ty], color='#ff0000', lw=3.0,
            solid_capstyle='butt', zorder=8)

ax.plot([fan_origin[0], fib_high[0]], [fan_origin[1], fib_high[1]],
        color='#ff0000', lw=0.8, ls=(0, (3, 3)), zorder=8)
fib_span = fib_high[1] - fan_origin[1]
for r, name in zip(fib_ratios, fib_names):
    ax.annotate(name, xy=(fib_label_bar, fib_high[1] - r * fib_span),
                xytext=(0, 4), textcoords='offset points', ha='left', va='bottom',
                fontsize=8.5, color='#ff2020', fontfamily=FONT, zorder=9)

zone_w = zone_bars[1] - zone_bars[0]
zone_h = zone_prices[1] - zone_prices[0]
ax.add_patch(Rectangle((zone_bars[0], zone_prices[0]), zone_w, zone_h, fill=False,
                       ec='#f08070', lw=3.2, alpha=0.45, zorder=9))
ax.add_patch(Rectangle((zone_bars[0], zone_prices[0]), zone_w, zone_h, fill=False,
                       ec='#e8302a', lw=1.6, zorder=10))

# chart shift marker
ax.plot([shift_bar], [price_range[1]], marker='v', ms=7, color='#d4d7ee',
        clip_on=False, zorder=11)

# ---------------------------------------------------------------- headers
ax.text(19 / 1856, 1 - 9.5 / 671.5, header_text, transform=ax.transAxes,
        ha='left', va='center', fontsize=8.5, color='#bdbdbd', fontfamily=FONT, zorder=22)
ax.plot([8 / 1856], [1 - 9.5 / 671.5], marker='v', ms=5, color='#bdbdbd',
        transform=ax.transAxes, clip_on=False, zorder=22)
ax.add_patch(Rectangle((1 / 1856, 1 - 107.5 / 671.5), 583 / 1856, 106 / 671.5,
                       transform=ax.transAxes, fc='white', ec='none', zorder=20))
ax.text(40 / 1856, 1 - 82.5 / 671.5, symbol_title, transform=ax.transAxes,
        ha='left', va='baseline', fontsize=58, color='#e23b2e',
        fontfamily='Liberation Sans', zorder=21)

# ---------------------------------------------------------------- stochastic
for lv in stoch_levels:
    ax2.axhline(lv, color='#c0c0c0', lw=2.2, zorder=1)
draw_line(ax2, stoch_signal, color='#ff0000', lw=0.9, ls=(0, (2, 2)), zorder=3)
draw_line(ax2, stoch_main, color='#20b2aa', lw=0.9, zorder=4)

ax2.text(5 / 1856, 1 - 12 / 185, stoch_header, transform=ax2.transAxes,
         ha='left', va='center', fontsize=9, color='#1a1a1a', fontfamily=FONT)

ax2.yaxis.tick_right()
ax2.set_yticks([0, 10, 20, 80, 90, 100])
ax2.set_yticklabels([])
ax2.tick_params(axis='y', length=4, width=0.8)
for lv in stoch_levels:
    ax2.annotate(str(lv), xy=(1, lv), xycoords=('axes fraction', 'data'),
                 xytext=(2, 0), textcoords='offset points', ha='left', va='center',
                 fontsize=8.5, color='#f4f4f4', fontfamily=FONT, annotation_clip=False,
                 bbox=dict(boxstyle='square,pad=0.12', fc='#c0c0c0', ec='none'))
ax2.annotate('100', xy=(1, 100), xycoords=('axes fraction', 'data'), xytext=(2, -1),
             textcoords='offset points', ha='left', va='top', fontsize=8.5,
             color='black', fontfamily=FONT, annotation_clip=False)
ax2.annotate('0', xy=(1, 0), xycoords=('axes fraction', 'data'), xytext=(2, 2),
             textcoords='offset points', ha='left', va='bottom', fontsize=8.5,
             color='black', fontfamily=FONT, annotation_clip=False)

# time axis
ax2.set_xticks([k * bars_per_label for k in range(len(time_labels))])
ax2.set_xticklabels(time_labels, fontfamily=FONT)
ax2.tick_params(axis='x', length=4, width=0.8, pad=2, labelsize=8.5)
for lbl in ax2.get_xticklabels():
    lbl.set_horizontalalignment('left')

# outer frame
fig.add_artist(Rectangle((0, 0), 1, 1, transform=fig.transFigure, fill=False,
                         ec='#a8a8a8', lw=1.5))

fig.savefig('out.png', dpi=DPI, facecolor=BG)
